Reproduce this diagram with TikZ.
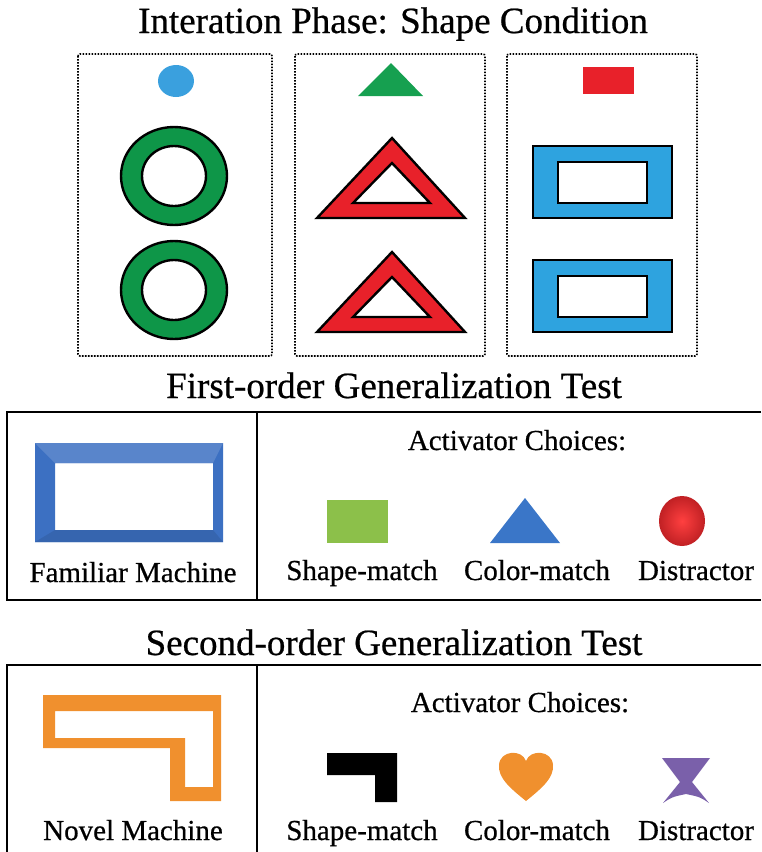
\documentclass[tikz,border=0pt]{standalone}
\usepackage{fontspec}
\setmainfont{Liberation Serif}
\newfontfamily\figfont[FakeBold=0.6]{Liberation Serif}

\definecolor{ringgreen}{RGB}{14,150,72}
\definecolor{dotblue}{RGB}{58,160,222}
\definecolor{trigreen}{RGB}{22,160,80}
\definecolor{rectred}{RGB}{232,33,42}
\definecolor{frameblue}{RGB}{46,163,223}
\definecolor{famblue}{RGB}{60,112,194}
\definecolor{sqgreen}{RGB}{140,192,74}
\definecolor{tblue}{RGB}{58,118,200}
\definecolor{ballred}{RGB}{214,36,40}
\definecolor{novorange}{RGB}{240,144,46}
\definecolor{xpurple}{RGB}{122,96,170}

\begin{document}
\begin{tikzpicture}[x=1pt,y=-1pt,
  title/.style={anchor=base, inner sep=0pt, font=\figfont\fontsize{37}{44}\selectfont},
  lab/.style={anchor=base, inner sep=0pt, font=\figfont\fontsize{29}{34}\selectfont},
  dotbox/.style={line width=1.6, dash pattern=on 1.6 off 1.4, rounded corners=2},
  outl/.style={draw=black, line width=2.4},
  panel/.style={line width=1.8}]
\useasboundingbox (0,0) rectangle (761,852);

% interaction phase
\node[title] (title1) at (393,33) {Interation Phase: Shape Condition};
\draw[dotbox] (78,54) rectangle (272,356);
\draw[dotbox] (295,54) rectangle (485,356);
\draw[dotbox] (507,54) rectangle (697,356);

\fill[dotblue] (176,81) ellipse (18 and 16); % activator
\fill[trigreen] (358,96) -- (391,63) -- (423,96) -- cycle; % activator
\fill[rectred] (583,67) rectangle (634,94); % activator

\foreach \yy in {176,290}{
  \draw[outl, fill=ringgreen, even odd rule] (174,\yy) ellipse (53 and 49) (174,\yy) ellipse (32 and 30); % ring
  \draw[outl, fill=rectred, even odd rule] (317,\yy+42) -- (392,\yy-38) -- (465,\yy+42) -- cycle
     (353,\yy+27) -- (392,\yy-13) -- (430,\yy+27) -- cycle; % triangle
  \draw[outl, fill=frameblue, even odd rule] (533,\yy-30) rectangle (672,\yy+42)
     (558,\yy-14) rectangle (647,\yy+27); % rectangle
}

% first-order test
\node[title] (title2) at (394,398) {First-order Generalization Test};
\draw[panel] (761,412) -- (7,412) -- (7,600) -- (761,600);
\draw[panel] (257,412) -- (257,600);

\fill[famblue, even odd rule] (35,443) rectangle (223,542) (55,463) rectangle (213,530); % familiar machine
\fill[famblue!85!white] (35,443) -- (223,443) -- (213,463) -- (55,463) -- cycle;
\fill[famblue!90!black] (35,542) -- (223,542) -- (213,530) -- (55,530) -- cycle;
\node[lab] (fam) at (133,582) {Familiar Machine};

\node[lab] (act1) at (517,450) {Activator Choices:};
\fill[sqgreen] (327,500) rectangle (388,543); % shape-match
\fill[tblue] (490,543) -- (525,498) -- (560,543) -- cycle; % color-match
\shade[inner color=red!75!white, outer color=ballred!90!black] (682,521) ellipse (23 and 25); % distractor
\node[lab] (sm1) at (362,580) {Shape-match};
\node[lab] (cm1) at (537,580) {Color-match};
\node[lab] (ds1) at (696,580) {Distractor};

% second-order test
\node[title] (title3) at (394,655) {Second-order Generalization Test};
\draw[panel] (761,665) -- (7,665) -- (7,852);
\draw[panel] (257,665) -- (257,852);

\fill[novorange, even odd rule] (43,695) -- (221,695) -- (221,801) -- (170,801) -- (170,748) -- (43,748) -- cycle
  (55,711) -- (213,711) -- (213,787) -- (185,787) -- (185,738) -- (55,738) -- cycle; % novel machine
\node[lab] (nov) at (133,840) {Novel Machine};

\node[lab] (act2) at (520,712) {Activator Choices:};
\fill[black] (327,753) -- (397,753) -- (397,802) -- (375,802) -- (375,775) -- (327,775) -- cycle; % shape-match
\fill[novorange] (526,801) .. controls (510,788) and (498,778) .. (499,765)
  .. controls (500,750) and (522,749) .. (526,761)
  .. controls (530,749) and (552,750) .. (553,765)
  .. controls (554,778) and (542,788) .. (526,801) -- cycle; % color-match
\fill[xpurple] (662,758) -- (710,758) -- (692,782) -- (709,803)
  .. controls (700,797) .. (686,794) .. controls (672,797) .. (663,803) -- (680,782) -- cycle; % distractor
\node[lab] (sm2) at (362,840) {Shape-match};
\node[lab] (cm2) at (537,840) {Color-match};
\node[lab] (ds2) at (696,840) {Distractor};
\end{tikzpicture}
\end{document}
